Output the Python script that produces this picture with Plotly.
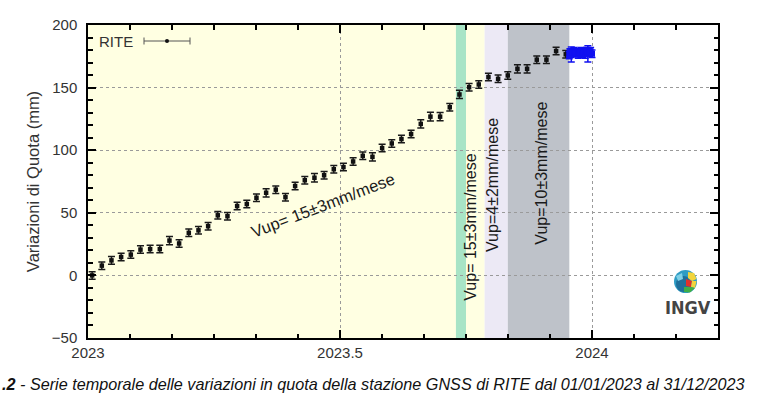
import plotly.graph_objects as go

# ---------------- data ----------------
weekly_day = [3, 10, 17, 24, 31, 38, 45, 52, 59, 66, 73, 80, 87, 94, 101, 108, 115, 122, 129, 136,
              143, 150, 157, 164, 171, 178, 185, 192, 199, 206, 213, 220, 227, 234, 241, 248, 255,
              262, 269, 276, 283, 290, 297, 304, 311, 318, 325, 332, 339, 346]
weekly_up = [0, 7.8, 12, 14.7, 16.6, 20.6, 21, 21, 27.8, 25.5, 34, 36, 39.3, 48, 47.3, 55.4, 57,
             62, 66, 68.5, 62.5, 71.4, 76, 78, 80, 84.8, 86.5, 91, 95.5, 94.7, 101.7, 105.4, 108.9,
             112.9, 121, 126.8, 126.8, 134.3, 144.5, 150.3, 152.5, 158.4, 157, 159.7, 165, 165,
             172.3, 172.3, 179.2, 176.6]
weekly_err = [3, 3, 3, 3, 3, 3, 3, 3, 3.3, 3, 3, 3, 3, 3, 3, 3, 3, 3, 3.3, 3, 3, 3, 3, 3.3, 3, 3,
              3, 3, 3, 3.3, 3, 3, 3, 3, 3.3, 3.5, 3.3, 3, 3.3, 3, 3, 3, 3, 3, 3.3, 3.3, 3, 3, 3, 3]

daily_day = [348.5, 349, 349.5, 350, 351, 352, 353, 354, 355, 356, 357, 358, 359, 360, 361, 362,
             363, 364, 365]
daily_up = [176, 178, 177, 176.5, 178, 179, 178, 177.5, 176.5, 178, 179, 177, 178, 176.5, 179, 177,
            178, 179, 177]
daily_err = [3, 3, 3, 6, 3, 3, 3, 3, 3, 3, 3, 3, 3, 3, 3, 6.5, 3, 3, 3]

bands = [  # (start, end, colour)
    (2023.0, 2023.730, "#FFFFE2"),
    (2023.730, 2023.750, "#A8E4C6"),
    (2023.750, 2023.787, "#FFFFE2"),
    (2023.787, 2023.833, "#ECE9F5"),
    (2023.833, 2023.955, "#BEC2C9"),
]

weekly_x = [2023 + d / 365 for d in weekly_day]
daily_x = [2023 + d / 365 for d in daily_day]

X_RANGE = [2023, 2024.25]
Y_RANGE = [-50, 200]

FONT = "Liberation Sans, Arial, Helvetica, sans-serif"

fig = go.Figure()

fig.add_trace(go.Scatter(
    x=weekly_x, y=weekly_up, mode="markers",
    marker=dict(symbol="square", size=4.5, color="#111"),
    error_y=dict(type="data", array=weekly_err, visible=True, color="#1a1a1a", thickness=1.5, width=3.5),
    showlegend=False, hoverinfo="skip"))

fig.add_trace(go.Scatter(
    x=daily_x, y=daily_up, mode="markers",
    marker=dict(symbol="square", size=6, color="#1010F0"),
    error_y=dict(type="data", array=daily_err, visible=True, color="#1010F0", thickness=1.5, width=3.5),
    showlegend=False, hoverinfo="skip"))

# empty trace so that the overlay axes (minor ticks) get drawn
fig.add_trace(go.Scatter(x=[], y=[], xaxis="x2", yaxis="y2", showlegend=False, hoverinfo="skip"))

shapes = []
for x0, x1, c in bands:
    shapes.append(dict(type="rect", xref="x", yref="paper", x0=x0, x1=x1, y0=0, y1=1,
                       fillcolor=c, line=dict(width=0), layer="below"))

# legend sample "RITE" (horizontal error bar)
px = lambda v: (v - 88) / 630
py = lambda v: (338 - v) / 313
shapes += [
    dict(type="line", xref="paper", yref="paper", x0=px(144), x1=px(190), y0=py(41), y1=py(41),
         line=dict(color="#555", width=1)),
    dict(type="line", xref="paper", yref="paper", x0=px(144), x1=px(144), y0=py(37.5), y1=py(44.5),
         line=dict(color="#555", width=1)),
    dict(type="line", xref="paper", yref="paper", x0=px(190), x1=px(190), y0=py(37.5), y1=py(44.5),
         line=dict(color="#555", width=1)),
    dict(type="circle", xref="paper", yref="paper", x0=px(165), x1=px(169), y0=py(43), y1=py(39),
         fillcolor="#111", line=dict(width=0)),
]

# INGV globe logo (decoration)
gx, gy, r = 685.5, 281.5, 11.5
shapes.append(dict(type="circle", xref="paper", yref="paper", x0=px(gx - r), x1=px(gx + r),
                   y0=py(gy + r), y1=py(gy - r), fillcolor="#2E9CC4", line=dict(width=0)))
shapes.append(dict(type="circle", xref="paper", yref="paper", x0=px(gx - r + 2), x1=px(gx + r - 6),
                   y0=py(gy + r - 1), y1=py(gy - r + 6), fillcolor="#1F6F9A", line=dict(width=0)))
def patch(pts, col):
    path = "M " + " L ".join(f"{px(a)},{py(b)}" for a, b in pts) + " Z"
    return dict(type="path", xref="paper", yref="paper", path=path, fillcolor=col, line=dict(width=0))
shapes.append(patch([(688, 272), (694, 273), (696.5, 279), (692, 281), (688, 278)], "#F2D43C"))
shapes.append(patch([(686, 279), (692, 281), (691, 287), (686, 286)], "#E0302A"))
shapes.append(patch([(692, 281), (696.5, 281), (695, 288), (691, 287)], "#F2D43C"))
shapes.append(patch([(684, 287), (691, 287), (695, 288), (690, 292.5), (684, 292)], "#3FAE49"))
shapes.append(patch([(676, 276), (682, 273), (683, 279), (678, 281)], "#7FD0E6"))

TXT = dict(family=FONT, size=16, color="#1a1a1a")
annotations = [
    dict(text="Vup= 15±3mm/mese", xref="x", yref="y", x=2023.467, y=56, textangle=-21,
         showarrow=False, font=dict(family=FONT, size=16.5, color="#1a1a1a")),
    dict(text="Vup= 15±3mm/mese", xref="x", yref="y", x=2023.759, y=38.5, textangle=-90,
         showarrow=False, font=TXT),
    dict(text="Vup=4±2mm/mese", xref="x", yref="y", x=2023.803, y=72, textangle=-90,
         showarrow=False, font=TXT),
    dict(text="Vup=10±3mm/mese", xref="x", yref="y", x=2023.9006, y=82, textangle=-90,
         showarrow=False, font=TXT),
    dict(text="RITE", xref="paper", yref="paper", x=px(97), y=py(41), xanchor="left", yanchor="middle",
         showarrow=False, font=dict(family=FONT, size=15, color="#333")),
    dict(text="<b>INGV</b>", xref="paper", yref="paper", x=px(687.5), y=py(307), xanchor="center",
         yanchor="middle", showarrow=False,
         font=dict(family="DejaVu Sans Condensed, Liberation Sans Narrow, Arial Narrow, sans-serif",
                   size=18, color="#444")),
    dict(text="<i><b>.2</b> - Serie temporale delle variazioni in quota della stazione GNSS di RITE dal 01/01/2023 al 31/12/2023</i>",
         xref="paper", yref="paper", x=px(0), y=py(384), xanchor="left", yanchor="middle",
         showarrow=False, font=dict(family=FONT, size=16.2, color="#111")),
]

axis_common = dict(showline=True, linecolor="black", linewidth=1.5, mirror="allticks",
                   ticks="inside", ticklen=8, tickwidth=2, tickcolor="black",
                   showgrid=True, gridcolor="#9a9a9a", griddash="dot", gridwidth=1,
                   zeroline=False,
                   tickfont=dict(family=FONT, size=15, color="#333"))

minor_common = dict(showline=False, mirror="allticks", ticks="inside", ticklen=4.5, tickwidth=1.5,
                    tickcolor="black", showgrid=False, zeroline=False, showticklabels=False,
                    tickmode="linear")

fig.update_layout(
    width=767, height=397,
    margin=dict(l=88, r=49, t=25, b=59),
    paper_bgcolor="white", plot_bgcolor="white",
    shapes=shapes, annotations=annotations,
    xaxis=dict(range=X_RANGE, tickmode="linear", tick0=2023, dtick=0.5, tickformat=".1~f",
               **axis_common),
    yaxis=dict(range=Y_RANGE, tickmode="linear", tick0=0, dtick=50,
               title=dict(text="Variazioni di Quota (mm)", standoff=8,
                          font=dict(family=FONT, size=16.5, color="#333")),
               ticklabelstandoff=6, **axis_common),
    xaxis2=dict(range=X_RANGE, overlaying="x", anchor="y2", side="bottom", tick0=2023, dtick=1 / 12,
                **minor_common),
    yaxis2=dict(range=Y_RANGE, overlaying="y", anchor="x2", side="left", tick0=0, dtick=10,
                **minor_common),
)

fig.write_html("out.html")
